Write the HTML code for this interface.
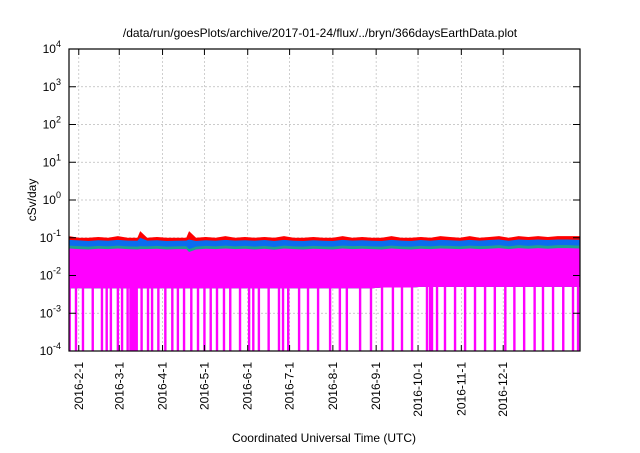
<!DOCTYPE html>
<html><head><meta charset="utf-8"><style>
body{margin:0;background:#fff;}
svg text{font-family:"Liberation Sans",sans-serif;fill:#000;}
</style></head><body>
<svg id="chart" width="640" height="448" xmlns="http://www.w3.org/2000/svg"></svg>
<script>
const tickLabels=["2016-2-1","2016-3-1","2016-4-1","2016-5-1","2016-6-1","2016-7-1","2016-8-1","2016-9-1","2016-10-1","2016-11-1","2016-12-1"];
const tickDays=[7,36,67,97,128,158,189,220,250,281,311];
const yExps=[4,3,2,1,0,-1,-2,-3,-4];
const sampleDays=[0,7,14,21,28,35,42,49,51,56,63,70,77,84,86,91,98,105,112,119,126,133,140,147,154,161,168,175,182,189,196,203,210,217,224,231,238,245,252,259,266,273,280,287,294,301,308,315,322,329,336,343,350,357,366];
const redTop=[0.11,0.1,0.1,0.105,0.1,0.11,0.1,0.1,0.15,0.1,0.105,0.1,0.1,0.1,0.15,0.1,0.105,0.1,0.11,0.1,0.105,0.1,0.105,0.1,0.11,0.1,0.1,0.105,0.1,0.1,0.11,0.1,0.105,0.1,0.1,0.11,0.1,0.1,0.105,0.1,0.11,0.105,0.1,0.11,0.1,0.105,0.11,0.1,0.11,0.105,0.11,0.105,0.11,0.11,0.11];
const blueTop=[0.088,0.085,0.082,0.086,0.083,0.088,0.084,0.083,0.1,0.084,0.086,0.082,0.083,0.084,0.09,0.082,0.086,0.083,0.088,0.084,0.086,0.083,0.087,0.082,0.088,0.083,0.082,0.086,0.083,0.082,0.088,0.084,0.086,0.083,0.082,0.088,0.084,0.082,0.087,0.083,0.088,0.086,0.083,0.088,0.084,0.087,0.09,0.083,0.09,0.087,0.09,0.087,0.09,0.09,0.088];
const tealTop=[0.062,0.06,0.058,0.061,0.059,0.062,0.059,0.058,0.06,0.059,0.061,0.058,0.059,0.06,0.05,0.058,0.061,0.059,0.062,0.059,0.061,0.058,0.061,0.057,0.062,0.059,0.058,0.061,0.059,0.058,0.062,0.06,0.061,0.059,0.058,0.062,0.059,0.058,0.061,0.059,0.062,0.061,0.059,0.062,0.06,0.061,0.064,0.059,0.064,0.061,0.064,0.061,0.064,0.064,0.062];
const magTop=[0.052,0.05,0.049,0.051,0.05,0.052,0.05,0.049,0.05,0.05,0.051,0.049,0.05,0.05,0.042,0.049,0.051,0.05,0.052,0.05,0.051,0.049,0.051,0.048,0.052,0.05,0.049,0.051,0.05,0.049,0.052,0.05,0.051,0.05,0.049,0.052,0.05,0.049,0.051,0.05,0.052,0.051,0.05,0.052,0.05,0.051,0.053,0.05,0.053,0.051,0.053,0.051,0.053,0.053,0.052];
const magBottom=[0.0046,0.0046,0.0046,0.0046,0.0046,0.0046,0.0046,0.0046,0.0046,0.0046,0.0046,0.0046,0.0046,0.0046,0.0046,0.0046,0.0046,0.0046,0.0046,0.0046,0.0046,0.0046,0.0046,0.0046,0.0046,0.0046,0.0046,0.0046,0.0046,0.0046,0.0046,0.0046,0.0046,0.0046,0.0048,0.0048,0.0048,0.0048,0.005,0.005,0.005,0.005,0.005,0.005,0.005,0.005,0.005,0.005,0.005,0.005,0.005,0.005,0.005,0.005,0.005];
const dropDays=[0.5,5,10,17,23.6,27,30,35,38,42,44,45.5,47,48.5,52,56.6,59.5,64,69,74,78,82.4,87.6,92.4,97,101.5,106,111,115.5,122.5,129,132,136,143,150.4,153.3,157,164.8,171.2,178.4,187,194,199,208.5,216.3,224.2,232,238.5,245.7,256.4,258.6,260,263.6,269.3,276.5,283.7,290.8,298,305,312.5,319,326,333.5,339.5,346.7,354,361,364.6];

const svg=document.getElementById('chart');
const NS='http://www.w3.org/2000/svg';
const L=69,R=580,T=49,B=351,DAYS=366;
const xs=d=>L+d/DAYS*(R-L);
const ys=v=>T+(4-Math.log10(v))/8*(B-T);
function mk(tag,attrs,parent){const e=document.createElementNS(NS,tag);for(const k in attrs)e.setAttribute(k,attrs[k]);(parent||svg).appendChild(e);return e;}

// grid
yExps.forEach(p=>{const y=ys(Math.pow(10,p));
 if(p<4&&p>-4){const g=mk('line',{x1:L,x2:R,y1:y,y2:y,stroke:'#bbb','stroke-width':0.7,'stroke-dasharray':'2,2'});
 }
});
tickDays.forEach(d=>{const x=xs(d);const g=mk('line',{x1:x,x2:x,y1:T,y2:B,stroke:'#bbb','stroke-width':0.7,'stroke-dasharray':'2,2'});
 });

function area(top,bot,color,name){
 let pts=sampleDays.map((d,i)=>xs(d)+','+ys(top[i]));
 for(let i=sampleDays.length-1;i>=0;i--)pts.push(xs(sampleDays[i])+','+(bot?ys(bot[i]):B));
 const p=mk('polygon',{points:pts.join(' '),fill:color});
 
}
area(redTop,magBottom,'#ff0000','series-red');
area(blueTop,magBottom,'#0a6cf0','series-blue');
area(tealTop,magBottom,'#20a090','series-teal');
area(magTop,magBottom,'#ff00ff','series-magenta');
dropDays.forEach(d=>{const r=mk('rect',{x:xs(d)-1.2,y:ys(0.006),width:2.4,height:B-ys(0.006),fill:'#ff00ff'});
 });

// frame
const f=mk('rect',{x:L,y:T,width:R-L,height:B-T,fill:'none',stroke:'#000','stroke-width':1.2});


// y ticks
yExps.forEach(p=>{const y=ys(Math.pow(10,p));
 mk('line',{x1:L,x2:L+7,y1:y,y2:y,stroke:'#000'});mk('line',{x1:R-7,x2:R,y1:y,y2:y,stroke:'#000'});
 const t=mk('text',{x:L-8,y:y+4,'text-anchor':'end','font-size':12});
 
 t.appendChild(document.createTextNode('10'));
 const s=mk('tspan',{dy:-6,'font-size':9},t);s.textContent=String(p);
});
// x ticks
tickDays.forEach((d,i)=>{const x=xs(d);
 mk('line',{x1:x,x2:x,y1:B,y2:B-6,stroke:'#000'});mk('line',{x1:x,x2:x,y1:T,y2:T+6,stroke:'#000'});
 const t=mk('text',{x:0,y:0,'text-anchor':'end','font-size':12,transform:`translate(${x+4},${B+11}) rotate(-90)`});
 
 t.textContent=tickLabels[i];});

const ti=mk('text',{x:320,y:37,'text-anchor':'middle','font-size':12});

ti.textContent='/data/run/goesPlots/archive/2017-01-24/flux/../bryn/366daysEarthData.plot';
const yl=mk('text',{x:0,y:0,'text-anchor':'middle','font-size':12,transform:'translate(36,200) rotate(-90)'});

yl.textContent='cSv/day';
const xl=mk('text',{x:324,y:442,'text-anchor':'middle','font-size':12});

xl.textContent='Coordinated Universal Time (UTC)';
</script>
</body></html>
